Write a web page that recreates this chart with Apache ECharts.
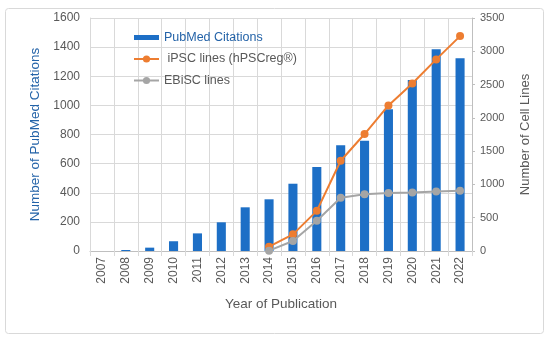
<!DOCTYPE html>
<html><head><meta charset="utf-8">
<script src="https://cdn.jsdelivr.net/npm/echarts@6/dist/echarts.min.js"></script>
<style>html,body{margin:0;padding:0;background:#fff}#c{width:550px;height:342px}</style>
</head><body><div id="c"></div>
<script>
const years = ['2007','2008','2009','2010','2011','2012','2013','2014','2015','2016','2017','2018','2019','2020','2021','2022'];
const pubmed = [0, 7, 23, 67, 121, 197, 300, 355, 462, 577, 726, 757, 973, 1174, 1385, 1323];
const ipsc = [null, null, null, null, null, null, null, 65, 250, 603, 1356, 1757, 2187, 2517, 2878, 3228];
const ebisc = [null, null, null, null, null, null, null, 5, 150, 455, 800, 851, 870, 880, 895, 905];
const leftTicks = [0, 1600, 200];
const rightTicks = [0, 3500, 500];

const chart = echarts.init(document.getElementById('c'), null, {renderer: 'canvas'});
const FONT = 'Liberation Sans';
chart.setOption({
  animation: false,
  textStyle: {fontFamily: FONT},
  graphic: [{type: 'rect', shape: {x: 5.5, y: 8.5, width: 538, height: 325, r: 3}, style: {fill: 'none', stroke: '#d9d9d9', lineWidth: 1}, z: -1}],
  grid: {left: 90, right: 78, top: 18, bottom: 91},
  legend: {
    orient: 'vertical', left: 128, top: 26, itemGap: 8.5, itemWidth: 25, itemHeight: 9,
    textStyle: {fontFamily: FONT, fontSize: 12.5, color: '#595959'},
    data: [
      {name: 'PubMed Citations', icon: 'path://M0,0H25V5H0Z', textStyle: {color: '#2463a8'}},
      {name: ' iPSC lines (hPSCreg®)'},
      {name: 'EBiSC lines'}
    ]
  },
  xAxis: {
    type: 'category', data: years,
    name: 'Year of Publication', nameLocation: 'middle', nameGap: 46,
    nameTextStyle: {fontFamily: FONT, fontSize: 13.5, color: '#595959'},
    axisLine: {lineStyle: {color: '#bfbfbf'}},
    axisTick: {show: true, lineStyle: {color: '#d9d9d9'}},
    axisLabel: {rotate: 90, fontSize: 12, color: '#595959', margin: 6},
    splitLine: {show: true, lineStyle: {color: '#d9d9d9'}}
  },
  yAxis: [{
    type: 'value', min: leftTicks[0], max: leftTicks[1], interval: leftTicks[2],
    name: 'Number of PubMed Citations', nameLocation: 'middle', nameGap: 48,
    nameTextStyle: {fontFamily: FONT, fontSize: 13.5, color: '#2463a8'},
    axisLine: {show: true, lineStyle: {color: '#d9d9d9'}},
    axisTick: {show: false},
    axisLabel: {fontSize: 12, color: '#595959', margin: 10, formatter: v => String(v)},
    splitLine: {show: true, lineStyle: {color: '#d9d9d9'}}
  }, {
    type: 'value', min: rightTicks[0], max: rightTicks[1], interval: rightTicks[2],
    name: 'Number of Cell Lines', nameLocation: 'middle', nameGap: 47,
    nameTextStyle: {fontFamily: FONT, fontSize: 13, color: '#595959'},
    axisLine: {show: true, lineStyle: {color: '#bfbfbf'}},
    axisTick: {show: true, length: 3, lineStyle: {color: '#bfbfbf'}},
    axisLabel: {fontSize: 11, color: '#595959', margin: 8, formatter: v => String(v)},
    splitLine: {show: false}
  }],
  series: [{
    name: 'PubMed Citations', type: 'bar', data: pubmed, barWidth: '38%',
    itemStyle: {color: '#1d6fc6'}
  }, {
    name: ' iPSC lines (hPSCreg®)', type: 'line', yAxisIndex: 1, data: ipsc,
    symbol: 'circle', symbolSize: 8, lineStyle: {color: '#ed7d31', width: 2}, itemStyle: {color: '#ed7d31'}
  }, {
    name: 'EBiSC lines', type: 'line', yAxisIndex: 1, data: ebisc,
    symbol: 'circle', symbolSize: 8, lineStyle: {color: '#a5a5a5', width: 2}, itemStyle: {color: '#a5a5a5'}
  }]
});
</script></body></html>
